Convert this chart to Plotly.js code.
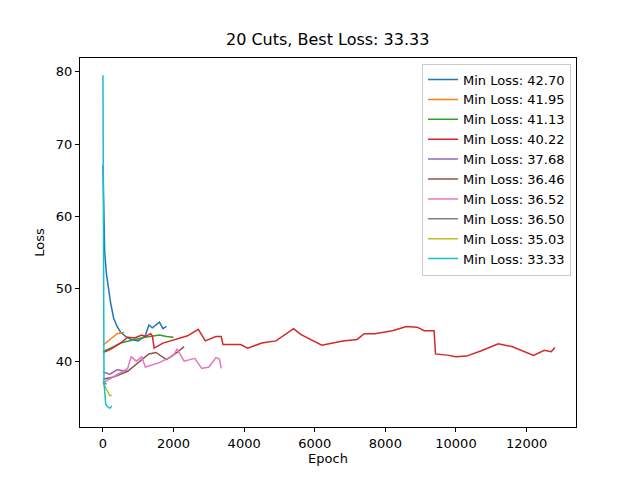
<!DOCTYPE html>
<html>
<head>
<script src="https://cdn.plot.ly/plotly-3.0.1.min.js"></script>
<style>body{margin:0}</style>
</head>
<body>
<div id="chart" style="width:640px;height:480px"></div>
<script>
var colors = ['#1f77b4','#ff7f0e','#2ca02c','#d62728','#9467bd','#8c564b','#e377c2','#7f7f7f','#bcbd22','#17becf'];
var names = ['Min Loss: 42.70','Min Loss: 41.95','Min Loss: 41.13','Min Loss: 40.22','Min Loss: 37.68',
             'Min Loss: 36.46','Min Loss: 36.52','Min Loss: 36.50','Min Loss: 35.03','Min Loss: 33.33'];
var xTicks = [0, 2000, 4000, 6000, 8000, 10000, 12000];
var xTickText = ['0', '2000', '4000', '6000', '8000', '10000', '12000'];

var x0 = [0, 20, 50, 100, 150, 220, 300, 400, 500, 650, 800, 1000, 1200, 1300, 1400, 1500, 1600, 1700, 1800];
var y0 = [67, 60, 55, 52, 50, 48, 46, 44.8, 44, 43.4, 43.0, 42.8, 43.5, 45.0, 44.6, 45.0, 45.4, 44.5, 44.8];
var x1 = [0, 100, 200, 300, 400, 500, 600];
var y1 = [42.2, 42.6, 43.0, 43.4, 43.8, 43.9, 44.0];
var x2 = [0, 150, 300, 500, 700, 900, 1200, 1400, 1600, 1800, 2000];
var y2 = [41.3, 41.6, 42.0, 42.5, 42.8, 43.0, 43.3, 43.4, 43.6, 43.4, 43.3];
var x3 = [0, 200, 500, 700, 900, 1100, 1200, 1350, 1400, 1450, 1700, 2000, 2400, 2700, 2900, 3200, 3350, 3400,
          3900, 4100, 4500, 4900, 5100, 5400, 5600, 5800, 6200, 6800, 7200, 7400, 7700, 8200, 8600, 8900, 9100,
          9380, 9420, 9800, 10000, 10300, 10700, 11200, 11600, 12200, 12500, 12700, 12800];
var y3 = [41.2, 41.6, 42.5, 43.3, 43.2, 43.6, 43.4, 43.8, 43.5, 41.8, 42.5, 42.9, 43.5, 44.4, 42.8, 43.4, 43.4, 42.3,
          42.3, 41.8, 42.5, 42.8, 43.5, 44.5, 43.7, 43.2, 42.2, 42.8, 43.0, 43.8, 43.8, 44.2, 44.8, 44.7, 44.2,
          44.2, 41.0, 40.8, 40.6, 40.7, 41.4, 42.4, 42.0, 40.8, 41.5, 41.3, 41.9];
var x4 = [0, 200, 400, 700];
var y4 = [38.5, 38.2, 38.8, 38.6];
var x5 = [0, 300, 700, 1000, 1300, 1500, 1800, 2100, 2300];
var y5 = [37.5, 37.8, 38.6, 39.8, 41.0, 41.2, 40.2, 41.2, 42.0];
var x6 = [0, 300, 700, 800, 950, 1100, 1200, 1600, 2000, 2100, 2300, 2600, 2800, 3000, 3200, 3300, 3350];
var y6 = [37.0, 37.9, 39.0, 40.6, 40.0, 40.6, 39.2, 39.8, 40.8, 41.7, 40.0, 40.4, 39.0, 39.2, 40.5, 40.3, 39.0];
var x7 = [0, 50, 100];
var y7 = [37.2, 37.0, 36.8];
var x8 = [0, 100, 200, 250];
var y8 = [37.0, 36.0, 35.2, 35.3];
var x9 = [0, 5, 15, 30, 80, 150, 200, 250];
var y9 = [79.5, 60, 45, 37, 34, 33.6, 33.5, 33.8];

var xs = [x0, x1, x2, x3, x4, x5, x6, x7, x8, x9];
var ys = [y0, y1, y2, y3, y4, y5, y6, y7, y8, y9];

var data = xs.map(function (x, i) {
  return {x: x, y: ys[i], name: names[i], mode: 'lines', type: 'scatter',
          line: {color: colors[i], width: 1.5}};
});

var ax = {showgrid: false, zeroline: false, showline: true, mirror: true, linecolor: '#000', linewidth: 1,
          ticks: 'outside', ticklen: 4, tickcolor: '#000', tickfont: {size: 13}};

var layout = {
  width: 640, height: 480,
  font: {family: 'DejaVu Sans', size: 13, color: '#000'},
  title: {text: '20 Cuts, Best Loss: 33.33', font: {size: 16}, x: 0.512, y: 0.93},
  margin: {l: 80, r: 64, t: 58, b: 53},
  plot_bgcolor: '#fff', paper_bgcolor: '#fff',
  xaxis: Object.assign({}, ax, {range: [-650, 13400], tickvals: xTicks, ticktext: xTickText,
         title: {text: 'Epoch', font: {size: 13}, standoff: 4}}),
  yaxis: Object.assign({}, ax, {range: [30.9, 81.9], tickvals: [40, 50, 60, 70, 80],
         title: {text: 'Loss', font: {size: 13}, standoff: 8}}),
  legend: {x: 0.99, y: 0.985, xanchor: 'right', yanchor: 'top', bordercolor: '#ccc', borderwidth: 1,
           bgcolor: 'rgba(255,255,255,0.8)', font: {size: 13}, tracegroupgap: 0}
};

Plotly.newPlot('chart', data, layout, {staticPlot: true});
</script>
</body>
</html>
